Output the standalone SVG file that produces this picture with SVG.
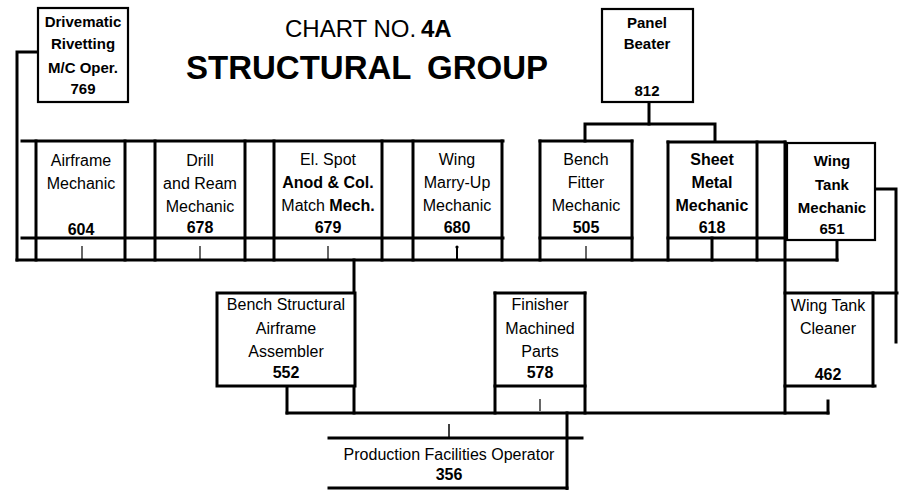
<svg xmlns="http://www.w3.org/2000/svg" width="902" height="490" viewBox="0 0 902 490">
<style>
  text { font-family: "Liberation Sans", Arial, sans-serif; fill: #000; }
  .t { font-size: 16px; text-anchor: middle; }
  .b { font-weight: bold; }
  .s { font-size: 15px; }
  .ln { stroke: #000; stroke-width: 3; fill: none; stroke-linecap: square; }
  .bx { stroke: #000; stroke-width: 2.2; fill: #fff; }
  .tk { stroke: #000; stroke-width: 1.2; fill: none; }
</style>
<rect width="902" height="490" fill="#fff"/>

<g id="title">
  <text x="285" y="37" font-size="24">CHART NO. <tspan x="421" font-weight="bold">4A</tspan></text>
  <text y="79" font-size="33" font-weight="bold"><tspan x="186">STRUCTURAL</tspan><tspan x="427">GROUP</tspan></text>
</g>

<g id="connectors">
  <!-- Drivematic link -->
  <polyline class="ln" points="38,52 17,52 17,260"/>
  <!-- Panel Beater bracket -->
  <polyline class="ln" points="649,102 649,124"/>
  <polyline class="ln" points="585,141 585,124 715,124 715,141"/>
  <!-- main top row band -->
  <line class="ln" x1="22" y1="141" x2="503" y2="141"/>
  <line class="ln" x1="22" y1="238" x2="503" y2="238"/>
  <line class="ln" x1="17" y1="260" x2="837" y2="260"/>
  <line class="ln" x1="36" y1="141" x2="36" y2="260"/>
  <line class="ln" x1="125" y1="141" x2="125" y2="260"/>
  <line class="ln" x1="155" y1="141" x2="155" y2="260"/>
  <line class="ln" x1="245" y1="141" x2="245" y2="260"/>
  <line class="ln" x1="274" y1="141" x2="274" y2="260"/>
  <line class="ln" x1="382" y1="141" x2="382" y2="260"/>
  <line class="ln" x1="413" y1="141" x2="413" y2="260"/>
  <line class="ln" x1="502" y1="141" x2="502" y2="260"/>
  <!-- Bench fitter -->
  <line class="ln" x1="540" y1="141" x2="632" y2="141"/>
  <line class="ln" x1="540" y1="238" x2="632" y2="238"/>
  <line class="ln" x1="540" y1="141" x2="540" y2="260"/>
  <line class="ln" x1="632" y1="141" x2="632" y2="260"/>
  <!-- Sheet metal + spacer -->
  <line class="ln" x1="668" y1="142" x2="785" y2="142"/>
  <line class="ln" x1="668" y1="238" x2="785" y2="238"/>
  <line class="ln" x1="668" y1="142" x2="668" y2="260"/>
  <line class="ln" x1="757" y1="142" x2="757" y2="260"/>
  <line class="ln" x1="712" y1="238" x2="712" y2="260"/>
  <line class="ln" x1="785" y1="142" x2="785" y2="413"/>
  <!-- Wing tank mechanic links -->
  <line class="ln" x1="837" y1="240" x2="837" y2="260"/>
  <polyline class="ln" points="875,189 896,189 896,342"/>
  <!-- ticks -->
  <line class="tk" x1="82" y1="246" x2="82" y2="259"/>
  <line class="tk" x1="200" y1="246" x2="200" y2="259"/>
  <line class="tk" x1="328" y1="246" x2="328" y2="259"/>
  <line stroke="#000" stroke-width="2" x1="457" y1="247" x2="457" y2="259"/>
  <circle cx="457" cy="247" r="1.6" fill="#000"/>
  <line class="tk" x1="586" y1="246" x2="586" y2="259"/>
  <!-- down to second row -->
  <line class="ln" x1="354" y1="260" x2="354" y2="413"/>
  <line class="ln" x1="287" y1="386" x2="287" y2="413"/>
  <line class="ln" x1="287" y1="413" x2="828" y2="413"/>
  <line class="ln" x1="495" y1="293" x2="495" y2="413"/>
  <line class="ln" x1="585" y1="293" x2="585" y2="413"/>
  <line class="tk" x1="540" y1="399" x2="540" y2="411"/>
  <line class="ln" x1="828" y1="401" x2="828" y2="413"/>
  <line class="ln" x1="785" y1="293" x2="897" y2="293"/>
  <line class="ln" x1="785" y1="386" x2="875" y2="386"/>
  <!-- production facilities -->
  <line class="ln" x1="567" y1="413" x2="567" y2="489"/>
  <line stroke="#000" stroke-width="1.5" x1="449" y1="424" x2="449" y2="438"/>
</g>

<g id="drivematic">
  <rect class="bx" x="38" y="8" width="90" height="94"/>
  <text class="t b s" x="83" y="27">Drivematic</text>
  <text class="t b s" x="83" y="49">Rivetting</text>
  <text class="t b s" x="83" y="73">M/C Oper.</text>
  <text class="t b s" x="83" y="94">769</text>
</g>

<g id="panel-beater">
  <rect class="bx" x="602" y="9" width="91" height="93"/>
  <text class="t b s" x="647" y="28">Panel</text>
  <text class="t b s" x="647" y="49">Beater</text>
  <text class="t b s" x="647" y="96">812</text>
</g>

<g id="airframe-mechanic">
  <text class="t" x="81" y="166">Airframe</text>
  <text class="t" x="81" y="189">Mechanic</text>
  <text class="t b" x="81" y="235">604</text>
</g>

<g id="drill-ream">
  <text class="t" x="200" y="166">Drill</text>
  <text class="t" x="200" y="189">and Ream</text>
  <text class="t" x="200" y="212">Mechanic</text>
  <text class="t b" x="200" y="233">678</text>
</g>

<g id="el-spot">
  <text class="t" x="328" y="165">El. Spot</text>
  <text class="t b" x="328" y="188">Anod &amp; Col.</text>
  <text class="t" x="328" y="211">Match <tspan font-weight="bold">Mech.</tspan></text>
  <text class="t b" x="328" y="233">679</text>
</g>

<g id="wing-marry-up">
  <text class="t" x="457" y="165">Wing</text>
  <text class="t" x="457" y="188">Marry-Up</text>
  <text class="t" x="457" y="211">Mechanic</text>
  <text class="t b" x="457" y="233">680</text>
</g>

<g id="bench-fitter">
  <text class="t" x="586" y="165">Bench</text>
  <text class="t" x="586" y="188">Fitter</text>
  <text class="t" x="586" y="211">Mechanic</text>
  <text class="t b" x="586" y="233">505</text>
</g>

<g id="sheet-metal">
  <text class="t b" x="712" y="165" font-size="15.5">Sheet</text>
  <text class="t b" x="712" y="188" font-size="15.5">Metal</text>
  <text class="t b" x="712" y="211" font-size="15.5">Mechanic</text>
  <text class="t b" x="712" y="233" font-size="15.5">618</text>
</g>

<g id="wing-tank-mechanic">
  <rect class="bx" x="787" y="143" width="88" height="97"/>
  <text class="t b s" x="832" y="166">Wing</text>
  <text class="t b s" x="832" y="190">Tank</text>
  <text class="t b s" x="832" y="213">Mechanic</text>
  <text class="t b s" x="832" y="234">651</text>
</g>

<g id="bench-structural">
  <rect class="bx" x="217" y="293" width="138" height="93" style="stroke-width:3"/>
  <text class="t" x="286" y="310" font-size="16.5">Bench Structural</text>
  <text class="t" x="286" y="334">Airframe</text>
  <text class="t" x="286" y="357">Assembler</text>
  <text class="t b" x="286" y="378">552</text>
</g>

<g id="finisher">
  <line class="ln" x1="495" y1="293" x2="585" y2="293"/>
  <line class="ln" x1="495" y1="386" x2="585" y2="386"/>
  <text class="t" x="540" y="310">Finisher</text>
  <text class="t" x="540" y="334">Machined</text>
  <text class="t" x="540" y="357">Parts</text>
  <text class="t b" x="540" y="378">578</text>
</g>

<g id="wing-tank-cleaner">
  <line class="ln" x1="873" y1="293" x2="873" y2="386"/>
  <text class="t" x="828" y="311">Wing Tank</text>
  <text class="t" x="828" y="334">Cleaner</text>
  <text class="t b" x="828" y="380">462</text>
</g>

<g id="production-facilities">
  <line class="ln" x1="329" y1="438" x2="582" y2="438"/>
  <line class="ln" x1="329" y1="488" x2="567" y2="488"/>
  <text class="t" x="449" y="460" font-size="16.8">Production Facilities Operator</text>
  <text class="t b" x="449" y="480">356</text>
</g>
</svg>
